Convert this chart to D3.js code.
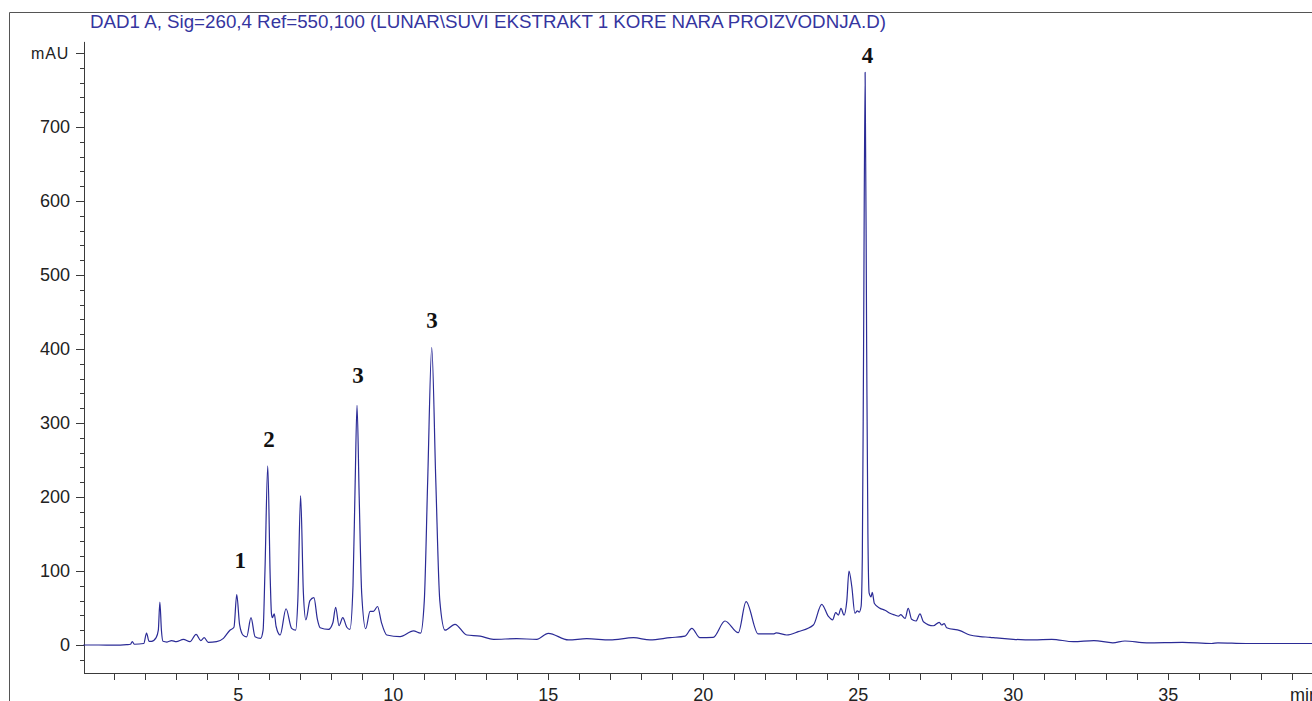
<!DOCTYPE html>
<html>
<head>
<meta charset="utf-8">
<script src="https://cdn.jsdelivr.net/npm/d3@7"></script>
<style>
  body { margin: 0; background: #ffffff; }
  svg { display: block; }
</style>
</head>
<body>
<svg id="chart" width="1312" height="701"></svg>
<script>
const width = 1312;
const height = 701;

const title = "DAD1 A, Sig=260,4 Ref=550,100 (LUNAR\\SUVI EKSTRAKT 1 KORE NARA PROIZVODNJA.D)";

// retention time (min)
const times = [
    0, 0.5, 1.0, 1.4, 1.52, 1.58, 1.65, 1.95, 2.04, 2.12, 2.2, 2.35, 2.42, 2.47, 2.52, 2.57,
    2.7, 2.85, 3.0, 3.23, 3.44, 3.64, 3.79, 3.9, 4.03, 4.3, 4.52, 4.73, 4.86, 4.95, 5.04,
    5.16, 5.27, 5.41, 5.54, 5.72, 5.8, 5.86, 5.95, 6.03, 6.07, 6.1, 6.16, 6.22, 6.35, 6.54,
    6.72, 6.85, 6.92, 7.01, 7.1, 7.18, 7.31, 7.44, 7.55, 7.64, 7.91, 8.05, 8.14, 8.25, 8.37,
    8.5, 8.6, 8.7, 8.77, 8.83, 8.9, 8.98, 9.11, 9.25, 9.36, 9.49, 9.62, 9.79, 10.22, 10.65,
    10.88, 11.0, 11.11, 11.24, 11.37, 11.5, 11.67, 11.99, 12.37, 12.8, 13.23, 13.98, 14.63,
    15.0, 15.65, 16.24, 16.99, 17.75, 18.28, 18.93, 19.41, 19.63, 19.89, 20.32, 20.7, 21.13,
    21.38, 21.77, 22.26, 22.35, 22.69, 23.06, 23.55, 23.82, 24.03, 24.17, 24.27, 24.36, 24.44,
    24.54, 24.63, 24.7, 24.79, 24.89, 24.97, 25.03, 25.09, 25.13, 25.17, 25.22, 25.27, 25.31,
    25.35, 25.41, 25.45, 25.52, 25.7, 25.86, 26.02, 26.18, 26.3, 26.37, 26.51, 26.61, 26.72,
    26.86, 26.99, 27.1, 27.42, 27.61, 27.69, 27.77, 27.85, 28.28, 28.6, 28.93, 29.25, 29.45,
    30.0, 30.65, 31.24, 31.94, 32.6, 33.21, 33.6, 34.3, 35.46, 36.4, 36.6, 37.5, 40
];

// absorbance (mAU)
const signal = [
    0, 0, -0.3, 0.5, 1, 4.5, 1, 2, 16, 5, 5, 10, 20, 58, 20, 5,
    4, 6, 4.5, 7.5, 4.5, 14.4, 6, 10, 3.6, 4.5, 9, 20, 24, 68, 28,
    13, 11, 37, 11.3, 9, 20, 100, 242, 90, 42, 37, 42, 25, 13.5, 49,
    22.5, 20, 60, 202, 70, 34, 60, 64, 35, 23.4, 21, 30, 51, 26, 37,
    24, 21, 80, 220, 324, 200, 70, 22, 45.5, 45.5, 52, 30, 13.5, 11.3, 19,
    16, 60, 223, 402, 223, 60, 20, 28, 13.5, 12, 7.7, 8.5, 7.7,
    15.8, 6.8, 8.5, 6.8, 9.9, 6.8, 9.9, 12, 22.5, 9.9, 10.4, 32.4, 16.7,
    58.6, 14.9, 14.9, 16.5, 13.5, 18, 27, 55, 39, 34, 43.7, 40.5, 49.5,
    40.5, 60, 100, 79, 43, 46, 44.5, 52, 120, 400, 774, 400, 150,
    70, 65, 71, 56, 49.5, 47, 43, 40.5, 39, 41, 36, 49.5, 34.7,
    32.4, 42, 31.5, 26, 30.6, 27, 29, 23.4, 19.4, 13.5, 11.3, 10.4, 9.5,
    7.7, 6.8, 7.7, 4.5, 5.9, 3, 5.4, 3, 3.6, 2, 3, 2, 2
];

const xTicks = [5, 10, 15, 20, 25, 30, 35];
const yTicks = [0, 100, 200, 300, 400, 500, 600, 700];

// peak annotations: time, mAU where the number sits, text
const peakTimes = [5.06, 5.99, 8.86, 11.25, 25.3];
const peakLabelLevels = [104, 268, 354, 428, 786];
const peakNames = ["1", "2", "3", "3", "4"];

const line_color = "#2b2b96";
const axis_color = "#3a3a3a";
const font = "'Liberation Sans', Arial, sans-serif";
const label_size = 18;

const svg = d3.select("#chart");

const x = d3.scaleLinear().domain([0, 40]).range([83.3, 83.3 + 40 * 31]);
const y = d3.scaleLinear().domain([0, 800]).range([645, 53]);

// outer frame
svg.append("path")
    .attr("d", `M9.5,${height + 2} V12.5 H${width + 2}`)
    .attr("fill", "none")
    .attr("stroke", "#555")
    .attr("stroke-width", 1);

svg.append("text")
    .attr("x", 90)
    .attr("y", 28)
    .attr("font-family", font)
    .attr("font-size", "18px")
    .attr("textLength", 796)
    .attr("lengthAdjust", "spacingAndGlyphs")
    .attr("fill", "#3535a0")
    .text(title);

// y axis
const y0 = y(-38), y1 = y(815);
svg.append("line")
    .attr("x1", 84.5).attr("x2", 84.5)
    .attr("y1", y1).attr("y2", y0 + 0.5)
    .attr("stroke", axis_color);

const yMinor = d3.range(-20, 801, 20).filter(v => v % 100 != 0);
svg.selectAll(".yminor").data(yMinor).join("line")
    .attr("x1", 80).attr("x2", 84.5)
    .attr("y1", d => Math.round(y(d)) + 0.5)
    .attr("y2", d => Math.round(y(d)) + 0.5)
    .attr("stroke", axis_color);

svg.selectAll(".ymajor").data(yTicks.concat([800])).join("line")
    .attr("x1", 76).attr("x2", 84.5)
    .attr("y1", d => Math.round(y(d)) + 0.5)
    .attr("y2", d => Math.round(y(d)) + 0.5)
    .attr("stroke", axis_color);

svg.selectAll(".ylabel").data(yTicks).join("text")
    .attr("x", 70)
    .attr("y", d => y(d))
    .attr("dy", "0.36em")
    .attr("text-anchor", "end")
    .attr("font-family", font)
    .attr("font-size", label_size + "px")
    .attr("fill", "#222")
    .text(d => d);

svg.append("text")
    .attr("x", 69)
    .attr("y", y(800))
    .attr("dy", "0.36em")
    .attr("text-anchor", "end")
    .attr("font-family", font)
    .attr("font-size", "16px")
    .attr("letter-spacing", "0.8px")
    .attr("fill", "#222")
    .text("mAU");

// x axis
svg.append("line")
    .attr("x1", 84).attr("x2", width + 2)
    .attr("y1", Math.round(y0) + 0.5).attr("y2", Math.round(y0) + 0.5)
    .attr("stroke", axis_color);

svg.selectAll(".xtick").data(d3.range(1, 40)).join("line")
    .attr("x1", d => Math.round(x(d)) + 0.5)
    .attr("x2", d => Math.round(x(d)) + 0.5)
    .attr("y1", Math.round(y0) + 0.5)
    .attr("y2", Math.round(y0) + 7)
    .attr("stroke", axis_color);

svg.selectAll(".xlabel").data(xTicks).join("text")
    .attr("x", d => x(d))
    .attr("y", 701)
    .attr("text-anchor", "middle")
    .attr("font-family", font)
    .attr("font-size", label_size + "px")
    .attr("fill", "#222")
    .text(d => d);

svg.append("text")
    .attr("x", 1290)
    .attr("y", 701)
    .attr("font-family", font)
    .attr("font-size", label_size + "px")
    .attr("fill", "#222")
    .text("min");

// trace
const pts = times.map((t, i) => [t, signal[i]]);
const trace = d3.line()
    .x(d => x(d[0]))
    .y(d => y(d[1]))
    .curve(d3.curveMonotoneX);

svg.append("path")
    .datum(pts)
    .attr("d", trace)
    .attr("fill", "none")
    .attr("stroke", line_color)
    .attr("stroke-width", 1.2)
    .attr("stroke-linejoin", "round");

// peak numbers
svg.selectAll(".peak").data(peakNames).join("text")
    .attr("x", (d, i) => x(peakTimes[i]))
    .attr("y", (d, i) => y(peakLabelLevels[i]))
    .attr("text-anchor", "middle")
    .attr("font-family", "'Liberation Serif', 'Times New Roman', serif")
    .attr("font-weight", "bold")
    .attr("font-size", "23px")
    .attr("fill", "#111")
    .text(d => d);
</script>
</body>
</html>
